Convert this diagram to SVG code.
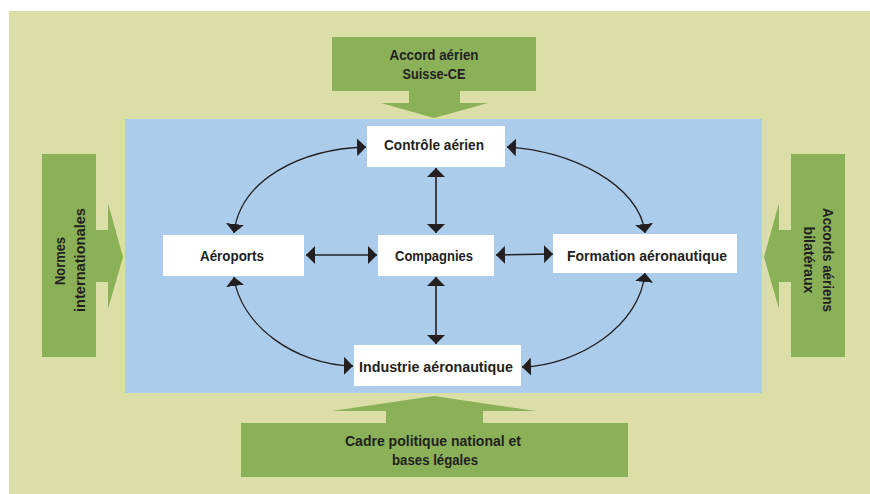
<svg xmlns="http://www.w3.org/2000/svg" width="870" height="494" viewBox="0 0 870 494">
<defs>
<style>
.bg{fill:#dbdfa7}
.panel{fill:#abcdeb}
.gr{fill:#8ab158}
.box{fill:#ffffff}
.t{font-family:"Liberation Sans",Arial,sans-serif;font-weight:bold;font-size:14px;fill:#231f20;text-anchor:middle}
.c{fill:none;stroke:#231f20;stroke-width:1.6}
.cv{fill:none;stroke:#231f20;stroke-width:1.3}
</style>
<marker id="ah" viewBox="0 0 9 18" refX="9" refY="9" markerWidth="9" markerHeight="18" markerUnits="userSpaceOnUse" orient="auto-start-reverse">
<path d="M0,0 L9,9 L0,18 Z" fill="#231f20"/>
</marker>
</defs>
<rect class="bg" x="9" y="11" width="861" height="483"/>
<rect class="panel" x="125" y="119" width="637" height="274"/>

<g id="accord-ce">
<path class="gr" d="M332,37 H536 V91 H460 V103 H488 L434,118 L381,103 H409 V91 H332 Z"/>
<text class="t" x="434" y="60" textLength="89" lengthAdjust="spacingAndGlyphs">Accord aérien</text>
<text class="t" x="434" y="79" textLength="63" lengthAdjust="spacingAndGlyphs">Suisse-CE</text>
</g>

<g id="normes">
<path class="gr" d="M42,154 H96 V230 H108 V203 L123,257 L108,309 V282 H96 V357 H42 Z"/>
<text class="t" transform="translate(65,261) rotate(-90)" textLength="48" lengthAdjust="spacingAndGlyphs">Normes</text>
<text class="t" transform="translate(85,260) rotate(-90)" textLength="104" lengthAdjust="spacingAndGlyphs">internationales</text>
</g>

<g id="accords-bilat">
<path class="gr" d="M845,154 H791 V230 H779 V203 L764,257 L779,309 V282 H791 V357 H845 Z"/>
<text class="t" transform="translate(823,260) rotate(90)" textLength="104" lengthAdjust="spacingAndGlyphs">Accords aériens</text>
<text class="t" transform="translate(804,260) rotate(90)" textLength="67" lengthAdjust="spacingAndGlyphs">bilatéraux</text>
</g>

<g id="cadre">
<path class="gr" d="M241,423 H386 V411 H332 L434,396 L536,411 H483 V423 H628 V477 H241 Z"/>
<text class="t" x="433" y="446" textLength="176" lengthAdjust="spacingAndGlyphs">Cadre politique national et</text>
<text class="t" x="435" y="465" textLength="86" lengthAdjust="spacingAndGlyphs">bases légales</text>
</g>

<g id="controle">
<rect class="box" x="367" y="126" width="138" height="41"/>
<text class="t" x="434" y="150" textLength="100" lengthAdjust="spacingAndGlyphs">Contrôle aérien</text>
</g>
<g id="aeroports">
<rect class="box" x="163" y="235" width="141" height="41"/>
<text class="t" x="232" y="261" textLength="64" lengthAdjust="spacingAndGlyphs">Aéroports</text>
</g>
<g id="compagnies">
<rect class="box" x="378" y="235" width="116" height="41"/>
<text class="t" x="434" y="261" textLength="78" lengthAdjust="spacingAndGlyphs">Compagnies</text>
</g>
<g id="formation">
<rect class="box" x="553" y="234" width="184" height="39"/>
<text class="t" x="647" y="261" textLength="160" lengthAdjust="spacingAndGlyphs">Formation aéronautique</text>
</g>
<g id="industrie">
<rect class="box" x="354" y="345" width="167" height="41"/>
<text class="t" x="436" y="372" textLength="154" lengthAdjust="spacingAndGlyphs">Industrie aéronautique</text>
</g>

<g id="connectors">
<line class="c" x1="436" y1="168" x2="436" y2="233" marker-start="url(#ah)" marker-end="url(#ah)"/>
<line class="c" x1="436" y1="277" x2="436" y2="344" marker-start="url(#ah)" marker-end="url(#ah)"/>
<line class="c" x1="306" y1="255" x2="377" y2="255" marker-start="url(#ah)" marker-end="url(#ah)"/>
<line class="c" x1="496" y1="255" x2="553" y2="254" marker-start="url(#ah)" marker-end="url(#ah)"/>
<path class="cv" d="M366,147 C300,149 240,180 234,233" marker-start="url(#ah)" marker-end="url(#ah)"/>
<path class="cv" d="M507,147 C570,150 640,185 645,233" marker-start="url(#ah)" marker-end="url(#ah)"/>
<path class="cv" d="M234,277 C240,325 295,365 353,366" marker-start="url(#ah)" marker-end="url(#ah)"/>
<path class="cv" d="M645,273 C640,325 580,365 522,367" marker-start="url(#ah)" marker-end="url(#ah)"/>
</g>
</svg>
